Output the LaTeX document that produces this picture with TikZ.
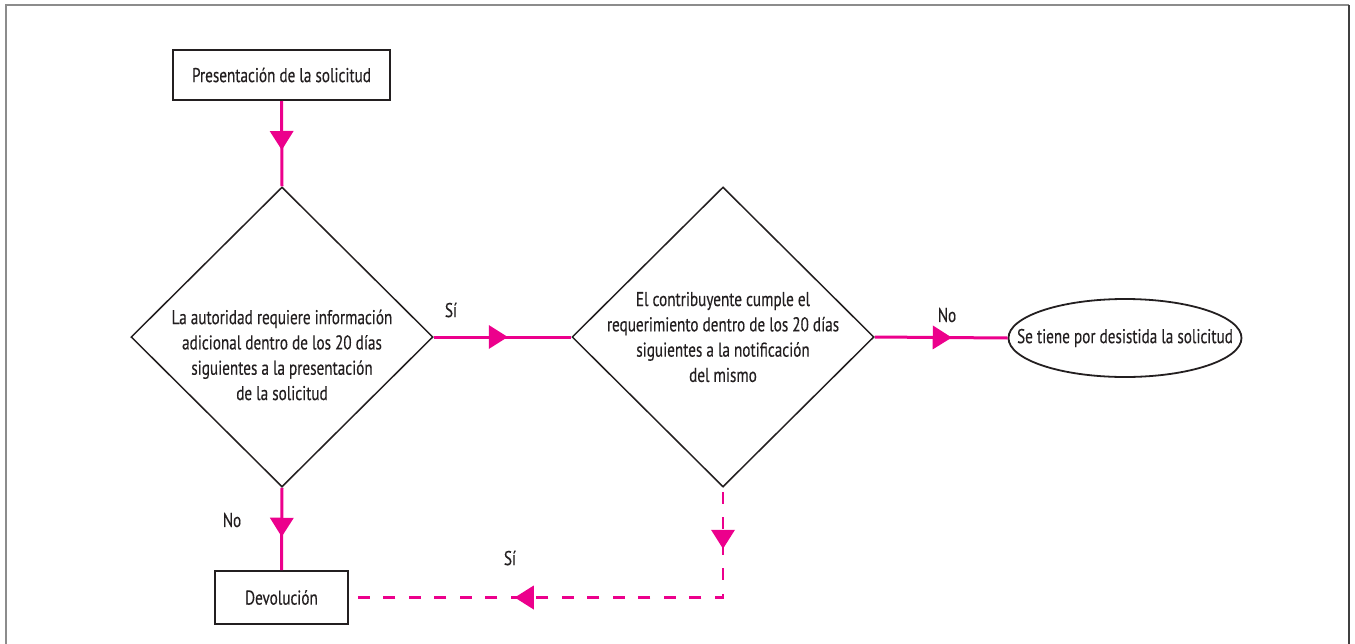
\documentclass[tikz,border=0pt]{standalone}
\usepackage{fontspec}
\setmainfont{PT Sans}[FakeStretch=0.76, FakeBold=0.3]
\usetikzlibrary{shapes.geometric,decorations.markings}
\definecolor{flow}{HTML}{EC008C}
\definecolor{ink}{HTML}{231F20}
\tikzset{
  every node/.style={text=ink, font=\fontsize{20}{25.3}\selectfont},
  box/.style={draw=ink, line width=2pt, rectangle, inner sep=0pt},
  decision/.style={draw=ink, line width=1.5pt, diamond, inner sep=0pt,
    minimum width=302pt, minimum height=300pt},
  endstate/.style={draw=ink, line width=1.8pt, ellipse, inner sep=0pt,
    minimum width=233pt, minimum height=78pt},
  caption/.style={align=center, inner sep=0pt},
  flowline/.style={draw=flow, line width=3pt},
  dashflow/.style={draw=flow, line width=2.5pt, dash pattern=on 12pt off 13.5pt, dash phase=-4pt},
  tipat/.style={postaction={decorate, decoration={markings,
    mark=at position #1 with {\fill[flow] (0,0) -- (-19,12) -- (-19,-12) -- cycle;}}}},
}
\begin{document}
\begin{tikzpicture}[x=1pt, y=-1pt]
  \clip (0,0) rectangle (1355,643);
  % page frame
  \draw[black!45, line width=1.5pt] (6,660) -- (6,5) -- (1349,5);
  \draw[black!75, line width=1.5pt] (1349,5) -- (1349,660);

  % shapes
  \node[box, minimum width=217pt, minimum height=50pt] (pres) at (281.5,75) {Presentación de la solicitud};
  \node[decision] (d1) at (282,337) {};
  \node[caption] (t1) at (282,355) {La autoridad requiere información\\adicional dentro de los 20 días\\siguientes a la presentación\\de la solicitud};
  \node[decision] (d2) at (723,337) {};
  \node[caption] (t2) at (723,337) {El contribuyente cumple el\\requerimiento dentro de los 20 días\\siguientes a la notificación\\del mismo};
  \node[endstate] (fin) at (1125,338) {};
  \node[caption] (tfin) at (1125,338) {Se tiene por desistida la solicitud};
  \node[box, minimum width=133pt, minimum height=53pt] (dev) at (281.5,597.5) {Devolución};
  \coordinate (corner) at (723,597.5);

  % connectors
  \draw[flowline, tipat=49pt] (pres.south) -- (d1.north);
  \draw[flowline, tipat=74pt] (d1.east) -- (d2.west);
  \draw[flowline, tipat=77pt] (d2.east) -- (fin.west);
  \draw[flowline, tipat=49pt] (d1.south) -- (dev.north);
  \draw[dashflow, tipat=61pt, tipat=318pt] (d2.south) -- (corner) -- (dev.east);

  % branch labels
  \node (l1) at (451,310) {Sí};
  \node (l2) at (947,315) {No};
  \node (l3) at (232,520) {No};
  \node (l4) at (510,558) {Sí};
\end{tikzpicture}
\end{document}
